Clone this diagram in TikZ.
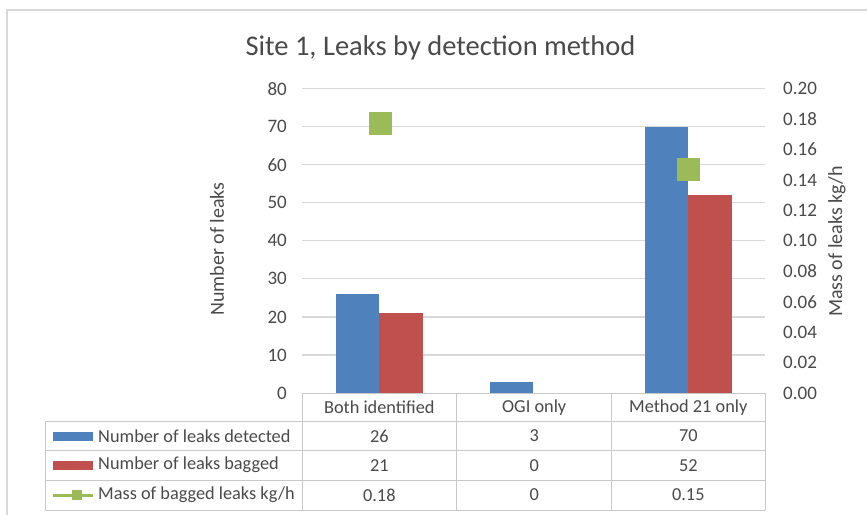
\documentclass[tikz,border=0pt]{standalone}
\usepackage{fontspec}
\setmainfont{Carlito}
\begin{document}
\begin{tikzpicture}[x=1pt,y=-1pt]
\definecolor{txt}{HTML}{4A4A4A}
\definecolor{grid}{HTML}{D9D9D9}
\definecolor{tabline}{HTML}{C8C8C8}
\definecolor{serA}{HTML}{4F81BD}
\definecolor{serB}{HTML}{C0504D}
\definecolor{serC}{HTML}{9BBB59}
\tikzset{
  titlelab/.style={font=\fontsize{28.5}{32}\selectfont, text=txt, inner sep=0},
  ticklab/.style={font=\fontsize{19}{22}\selectfont, text=txt, inner sep=0},
  axislab/.style={font=\fontsize{20}{24}\selectfont, text=txt, inner sep=0, rotate=90},
  cell/.style={font=\fontsize{18.3}{22}\selectfont, text=txt, inner sep=0},
  gridline/.style={draw=grid, line width=1.2pt},
  tabrule/.style={draw=tabline, line width=1pt},
}
\useasboundingbox (0,0) rectangle (867,514);
\fill[white] (0,0) rectangle (867,514);
% outer frame
\draw[grid, line width=2pt] (7,520) -- (7,10) -- (875,10);
% title
\node[titlelab, anchor=base] (title) at (440.5,55) {Site 1, Leaks by detection method};
% gridlines
\foreach \v in {1,...,8} {
  \draw[gridline] (302,393-\v*38.05) -- (765,393-\v*38.05);
}
% left tick labels
\foreach \v in {0,...,8} {
  \pgfmathtruncatemacro{\lab}{\v*10}
  \node[ticklab, anchor=east] at (287,393-\v*38.05) {\lab};
}
% right tick labels
\foreach \v/\lab in {0/0.00,1/0.02,2/0.04,3/0.06,4/0.08,5/0.10,6/0.12,7/0.14,8/0.16,9/0.18,10/0.20} {
  \node[ticklab, anchor=west] at (783,393-\v*30.44) {\lab};
}
% axis titles
\node[axislab] (ylab) at (217,249) {Number of leaks};
\node[axislab] (y2lab) at (837,241.5) {Mass of leaks kg/h};
% bars
\fill[serA] (336,393) rectangle (379.3,294.1);
\fill[serB] (379.3,393) rectangle (423.3,313.1);
\fill[serA] (490,393) rectangle (533.3,381.6);
\fill[serA] (645,393) rectangle (688.3,126.6);
\fill[serB] (688.3,393) rectangle (731.7,195.1);
% markers
\fill[serC] (368.5,111.8) rectangle (391.5,134.8);
\fill[serC] (676.8,157.8) rectangle (699.8,180.8);
% data table
\draw[tabrule] (302,393) -- (765,393);
\draw[tabrule] (45,421.7) -- (765,421.7);
\draw[tabrule] (45,450.5) -- (765,450.5);
\draw[tabrule] (45,480) -- (765,480);
\draw[tabrule] (45,510) -- (765,510);
\draw[tabrule] (45,421.7) -- (45,510);
\draw[tabrule] (302,393) -- (302,510);
\draw[tabrule] (456.7,393) -- (456.7,510);
\draw[tabrule] (611.7,393) -- (611.7,510);
\draw[tabrule] (765,393) -- (765,510);
% headers
\node[cell] (h1) at (379.3,407.3) {Both identified};
\node[cell] (h2) at (534.2,407.3) {OGI only};
\node[cell] (h3) at (688.3,407.3) {Method 21 only};
% legend keys
\fill[serA] (52.7,432) rectangle (93.3,441);
\fill[serB] (52.7,461.2) rectangle (93.3,470.2);
\draw[serC, line width=3pt] (52.7,495) -- (93.3,495);
\fill[serC] (71.5,490) rectangle (81.5,500);
% row labels
\node[cell, anchor=west] (r1) at (98,436) {Number of leaks detected};
\node[cell, anchor=west] (r2) at (98,465.2) {Number of leaks bagged};
\node[cell, anchor=west] (r3) at (98,495) {Mass of bagged leaks kg/h};
% values
\node[cell] at (379.3,436) {26};
\node[cell] at (534.2,436) {3};
\node[cell] at (688.3,436) {70};
\node[cell] at (379.3,465.2) {21};
\node[cell] at (534.2,465.2) {0};
\node[cell] at (688.3,465.2) {52};
\node[cell] at (379.3,495) {0.18};
\node[cell] at (534.2,495) {0};
\node[cell] at (688.3,495) {0.15};
\end{tikzpicture}
\end{document}
